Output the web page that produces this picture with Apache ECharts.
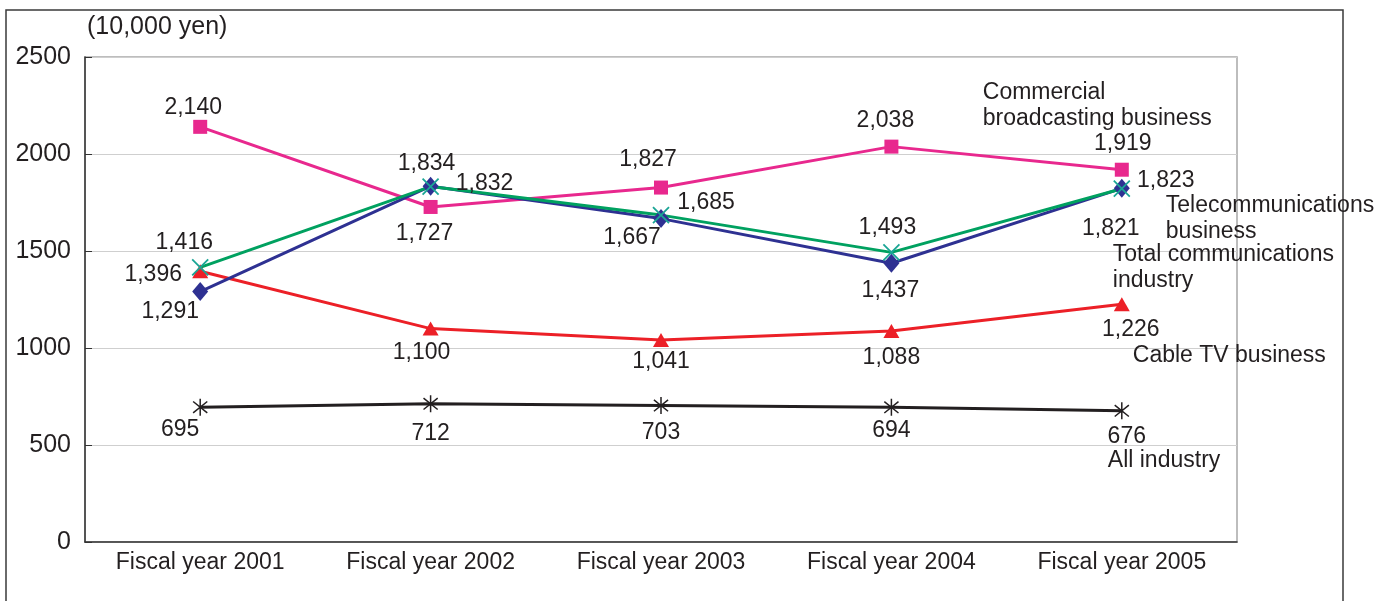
<!DOCTYPE html>
<html>
<head>
<meta charset="utf-8">
<script src="https://cdn.jsdelivr.net/npm/echarts@6/dist/echarts.min.js"></script>
<style>
  html, body { margin: 0; padding: 0; background: #fff; }
  #chart { width: 1393px; height: 601px; }
</style>
</head>
<body>
<div id="chart"></div>
<script>
const years = ['Fiscal year 2001', 'Fiscal year 2002', 'Fiscal year 2003', 'Fiscal year 2004', 'Fiscal year 2005'];
const commercialBroadcasting = [2140, 1727, 1827, 2038, 1919];
const telecommunications = [1291, 1834, 1667, 1437, 1823];
const totalCommunications = [1416, 1832, 1685, 1493, 1821];
const cableTV = [1396, 1100, 1041, 1088, 1226];
const allIndustry = [695, 712, 703, 694, 676];
const yTicks = [0, 500, 1000, 1500, 2000, 2500];

const textColor = '#231f20';
const font = 'Liberation Sans, Arial, sans-serif';

// label offsets (from symbol centre) per point, picked by eye
const offsets = {
  pink:  [[-7, -19], [-6, 27], [-13, -28], [-6, -26], [1, -26]],
  blue:  [[-30, 20], [-4, -23], [-29, 19], [-1, 27], [44, -8]],
  green: [[-16, -25], [54, -3], [45, -12], [-4, -25], [-11, 40]],
  red:   [[-47, 3], [-9, 24], [0, 22], [0, 27], [9, 26]],
  black: [[-20, 22], [0, 30], [0, 27], [0, 23], [5, 26]]
};

const withLabels = (values, offs) => values.map((v, i) => ({
  value: v,
  label: { offset: offs[i] }
}));

const fmt = (p) => p.value.toLocaleString('en-US');

const valueLabel = {
  show: true,
  position: 'inside',
  color: textColor,
  fontFamily: font,
  fontSize: 23,
  formatter: fmt
};

const nameMark = (text, cat, val, off) => ({
  symbol: 'circle',
  symbolSize: 0,
  silent: true,
  data: [{ coord: [cat, val] }],
  label: {
    show: true,
    position: 'right',
    distance: 0,
    offset: off,
    formatter: text,
    color: textColor,
    fontFamily: font,
    fontSize: 23,
    lineHeight: 26,
    align: 'left'
  }
});

const xPath = 'path://M0,0L10,10M10,0L0,10';
const starPath = 'path://M0,1L10,9M10,1L0,9M5,-1L5,11';

const chart = echarts.init(document.getElementById('chart'));
const option = {
  animation: false,
  backgroundColor: '#fff',
  textStyle: { fontFamily: font, color: textColor },
  graphic: [{
    type: 'rect',
    shape: { x: 6, y: 10, width: 1337, height: 620 },
    style: { fill: 'none', stroke: '#3a3a3a', lineWidth: 1.5 },
    silent: true
  }],
  grid: {
    left: 85, right: 156, top: 57, bottom: 59,
    show: true, borderColor: '#a8a8a8', borderWidth: 1.5
  },
  xAxis: {
    type: 'category',
    data: years,
    boundaryGap: true,
    axisLine: { lineStyle: { color: '#333', width: 1.5 } },
    axisTick: { inside: true, length: 7, lineStyle: { color: '#333' } },
    axisLabel: { color: textColor, fontSize: 23, fontFamily: font, margin: 9 }
  },
  yAxis: {
    type: 'value',
    min: yTicks[0],
    max: yTicks[yTicks.length - 1],
    interval: 500,
    name: '(10,000 yen)',
    nameLocation: 'end',
    nameGap: 17,
    nameTextStyle: { color: textColor, fontSize: 25, fontFamily: font, align: 'left', padding: [0, 0, 0, 2] },
    axisLine: { show: true, lineStyle: { color: '#333', width: 1.5 } },
    axisTick: { show: true, inside: true, length: 7, lineStyle: { color: '#333' } },
    axisLabel: { color: textColor, fontSize: 25, fontFamily: font, margin: 14, formatter: (v) => String(v) },
    splitLine: { lineStyle: { color: '#cfcfcf', width: 1 } }
  },
  series: [
    {
      name: 'All industry',
      type: 'line',
      data: withLabels(allIndustry, offsets.black),
      symbol: starPath,
      symbolSize: 17,
      symbolKeepAspect: true,
      lineStyle: { color: '#231f20', width: 3 },
      itemStyle: { color: 'rgba(0,0,0,0)', borderColor: '#231f20', borderWidth: 1.5 },
      label: valueLabel,
      markPoint: nameMark('All industry', years[4], allIndustry[4], [-14, 50])
    },
    {
      name: 'Cable TV business',
      type: 'line',
      data: withLabels(cableTV, offsets.red),
      symbol: 'triangle',
      symbolSize: [16, 14],
      lineStyle: { color: '#ec2027', width: 3 },
      itemStyle: { color: '#ec2027' },
      label: valueLabel,
      markPoint: nameMark('Cable TV business', years[4], cableTV[4], [11, 52])
    },
    {
      name: 'Commercial broadcasting business',
      type: 'line',
      data: withLabels(commercialBroadcasting, offsets.pink),
      symbol: 'rect',
      symbolSize: 14,
      lineStyle: { color: '#e8288e', width: 3 },
      itemStyle: { color: '#e8288e' },
      label: valueLabel,
      markPoint: nameMark('Commercial\nbroadcasting business', years[4], commercialBroadcasting[4], [-139, -64])
    },
    {
      name: 'Telecommunications business',
      type: 'line',
      data: withLabels(telecommunications, offsets.blue),
      symbol: 'diamond',
      symbolSize: [16, 19],
      lineStyle: { color: '#2e3192', width: 3 },
      itemStyle: { color: '#2e3192' },
      label: valueLabel,
      markPoint: nameMark('Telecommunications\nbusiness', years[4], telecommunications[4], [44, 30])
    },
    {
      name: 'Total communications industry',
      type: 'line',
      data: withLabels(totalCommunications, offsets.green),
      symbol: xPath,
      symbolSize: 16,
      symbolKeepAspect: true,
      lineStyle: { color: '#00a160', width: 3 },
      itemStyle: { color: 'rgba(0,0,0,0)', borderColor: '#1aa595', borderWidth: 1.8 },
      label: valueLabel,
      markPoint: nameMark('Total communications\nindustry', years[4], totalCommunications[4], [-9, 79])
    }
  ]
};
chart.setOption(option);
</script>
</body>
</html>
